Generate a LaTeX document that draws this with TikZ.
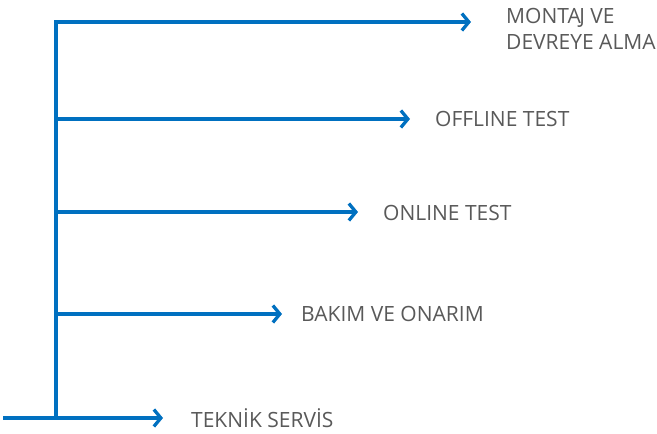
\documentclass[tikz,border=0pt]{standalone}
\usepackage{fontspec}
\setmainfont{Open Sans}
\usetikzlibrary{arrows.meta}
\definecolor{lineblue}{HTML}{0070C0}
\definecolor{txtgray}{HTML}{595959}
\begin{document}
\begin{tikzpicture}[x=1pt,y=1pt,
  conn/.style={draw=lineblue, line width=3.3pt},
  arr/.style={conn, -{Straight Barb[length=7pt,width=17pt,line width=3.3pt]}},
  lbl/.style={text=txtgray, font=\fontsize{21}{26}\selectfont, anchor=west, inner sep=0pt, align=left}]
\useasboundingbox (0,0) rectangle (657,434);
\coordinate (vtop) at (56,412);
\coordinate (v1) at (56,315);
\coordinate (v2) at (56,222);
\coordinate (v3) at (56,120);
\coordinate (vbot) at (56,16);
\coordinate (start) at (3,16);
\coordinate (t0) at (471,412);
\coordinate (t1) at (410,315);
\coordinate (t2) at (358,222);
\coordinate (t3) at (282,120);
\coordinate (t4) at (163,16);
\draw[conn, line cap=rect] (vbot) -- (vtop);
\draw[arr] (vtop) -- (t0);
\draw[arr] (v1) -- (t1);
\draw[arr] (v2) -- (t2);
\draw[arr] (v3) -- (t3);
\draw[arr] (start) -- (t4);
\node[lbl] (l0) at (506,405) {MONTA\kern-1.5ptJ VE\\DEVREYE ALMA};
\node[lbl] (l1) at (435,315) {OFFLINE TEST};
\node[lbl] (l2) at (383,221) {ONLINE TEST};
\node[lbl] (l3) at (301,120) {BAKIM VE ONARIM};
\node[lbl] (l4) at (191,16) {TEKNİK SERVİS};
\end{tikzpicture}
\end{document}
